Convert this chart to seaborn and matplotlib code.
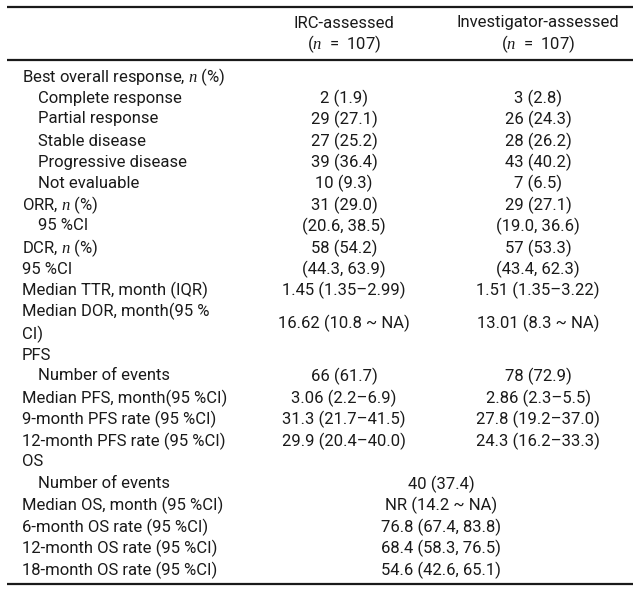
import matplotlib.pyplot as plt
import pandas as pd
import seaborn as sns

HEADERS = ["IRC-assessed", "Investigator-assessed"]
N_LABELS = ["($n$  =  107)", "($n$  =  107)"]

LABELS = [
    "Best overall response, $n$ (%)",
    "Complete response",
    "Partial response",
    "Stable disease",
    "Progressive disease",
    "Not evaluable",
    "ORR, $n$ (%)",
    "95 %CI",
    "DCR, $n$ (%)",
    "95 %CI",
    "Median TTR, month (IQR)",
    "Median DOR, month(95 %\nCI)",
    "PFS",
    "Number of events",
    "Median PFS, month(95 %CI)",
    "9-month PFS rate (95 %CI)",
    "12-month PFS rate (95 %CI)",
    "OS",
    "Number of events",
    "Median OS, month (95 %CI)",
    "6-month OS rate (95 %CI)",
    "12-month OS rate (95 %CI)",
    "18-month OS rate (95 %CI)",
]
INDENT = [0, 1, 1, 1, 1, 1, 0, 1, 0, 0, 0, 0, 0, 1, 0, 0, 0, 0, 1, 0, 0, 0, 0]

IRC = ["", "2 (1.9)", "29 (27.1)", "27 (25.2)", "39 (36.4)", "10 (9.3)",
       "31 (29.0)", "(20.6, 38.5)", "58 (54.2)", "(44.3, 63.9)",
       "1.45 (1.35–2.99)", "16.62 (10.8 ~ NA)", "", "66 (61.7)",
       "3.06 (2.2–6.9)", "31.3 (21.7–41.5)", "29.9 (20.4–40.0)", "",
       "", "", "", "", ""]
INV = ["", "3 (2.8)", "26 (24.3)", "28 (26.2)", "43 (40.2)", "7 (6.5)",
       "29 (27.1)", "(19.0, 36.6)", "57 (53.3)", "(43.4, 62.3)",
       "1.51 (1.35–3.22)", "13.01 (8.3 ~ NA)", "", "78 (72.9)",
       "2.86 (2.3–5.5)", "27.8 (19.2–37.0)", "24.3 (16.2–33.3)", "",
       "", "", "", "", ""]
# OS values are pooled across both assessments (merged cell)
POOLED = ["", "", "", "", "", "", "", "", "", "", "", "", "", "", "", "", "",
          "", "40 (37.4)", "NR (14.2 ~ NA)", "76.8 (67.4, 83.8)",
          "68.4 (58.3, 76.5)", "54.6 (42.6, 65.1)"]

ROW_Y = [77, 98, 119, 141, 162, 183, 205, 226, 248, 269, 290, 323, 355, 376,
         398, 419, 441, 462, 484, 505, 527, 548, 570]

df = pd.DataFrame({"label": LABELS, "indent": INDENT, "irc": IRC,
                   "inv": INV, "pooled": POOLED, "y": ROW_Y})

sns.set_theme(style="white")
plt.rcParams["font.family"] = ["Roboto", "DejaVu Sans"]
plt.rcParams["mathtext.fontset"] = "custom"
plt.rcParams["mathtext.it"] = "Liberation Serif:italic"
plt.rcParams["mathtext.rm"] = "Roboto"

fig = plt.figure(figsize=(6.4, 5.94), dpi=100)
ax = fig.add_axes([0, 0, 1, 1])
ax.set_xlim(0, 640)
ax.set_ylim(594, 0)
ax.axis("off")

fs = 12
tc = "#1a1a1a"
col_x = [344, 538]
for x, h, n in zip(col_x, HEADERS, N_LABELS):
    ax.text(x, 23, h, ha="center", va="center", fontsize=fs, color=tc)
    ax.text(x, 44, n, ha="center", va="center", fontsize=fs, color=tc)

for _, r in df.iterrows():
    lx = 22 + 16 * r["indent"]
    ax.text(lx, r["y"], r["label"], ha="left", va="center", fontsize=fs,
            color=tc, linespacing=1.45)
    if r["irc"]:
        ax.text(col_x[0], r["y"], r["irc"], ha="center", va="center",
                fontsize=fs, color=tc)
    if r["inv"]:
        ax.text(col_x[1], r["y"], r["inv"], ha="center", va="center",
                fontsize=fs, color=tc)
    if r["pooled"]:
        ax.text(441, r["y"], r["pooled"], ha="center", va="center",
                fontsize=fs, color=tc)

for yl in [7, 60, 584]:
    ax.plot([7, 633], [yl, yl], color="#1a1a1a", lw=1.6, solid_capstyle="butt")

fig.savefig("out.png", dpi=100, facecolor="white")
